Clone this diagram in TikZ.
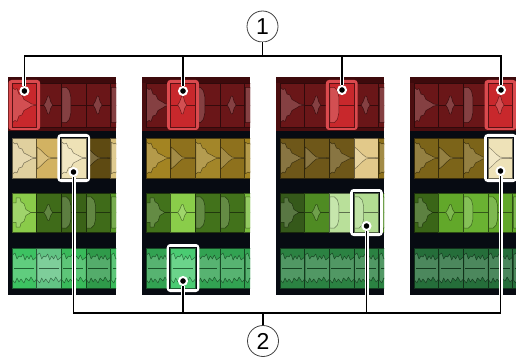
\documentclass[tikz,border=0pt]{standalone}
\usepackage{fontspec}
\setmainfont{Liberation Sans}
\usetikzlibrary{positioning}

\definecolor{panelbg}{HTML}{070B12}
\definecolor{redband}{HTML}{4C0E10}
\definecolor{redtop}{HTML}{3E0A0C}
\definecolor{redglow}{HTML}{DA4A4E}

\tikzset{
  clipedge/.style={draw=clipfill!45!black, line width=0.7pt},
  wavefill/.style={fill=clipfill!82!white, draw=clipfill!55!black, line width=0.5pt, line join=round},
  midline/.style={draw=clipfill!50!black, line width=0.8pt},
  dot/.style={circle, fill=black, draw=white, line width=2pt, inner sep=0pt, minimum size=8pt},
  callout/.style={circle, draw=black!75, line width=0.8pt, minimum size=31pt, inner sep=0pt, font=\fontsize{23}{23}\selectfont},
  halo/.style={draw=white, line width=4pt},
  connector/.style={draw=black, line width=1.8pt}
}

% waveforms, clip drawn in a 24.7 x 40 box
\newcommand{\waveA}{%
  \draw[midline] (0,20) -- (24.7,20);
  \draw[wavefill] (0.5,4) -- (3,6) -- (5,5) -- (7,10) -- (10,11) -- (12,15) -- (16,17) -- (20,19.2) -- (24.7,19.6) -- (24.7,20.4) -- (20,20.8) -- (16,23) -- (12,25) -- (10,29) -- (7,30) -- (5,35) -- (3,34) -- (0.5,36) -- cycle;}
\newcommand{\waveY}{%
  \draw[midline] (0,20) -- (24.7,20);
  \draw[wavefill] (0.5,9) -- (4,12) -- (8,16) -- (12,19.2) -- (24.7,19.6) -- (24.7,20.4) -- (12,20.8) -- (8,24) -- (4,28) -- (0.5,31) -- cycle;}
\newcommand{\waveB}{%
  \draw[midline] (0,20) -- (24.7,20);
  \draw[wavefill] (7,20) -- (9,17) -- (11,12) -- (12.5,12) -- (14,17) -- (16,20) -- (14,23) -- (12.5,28) -- (11,28) -- (9,23) -- cycle;}
\newcommand{\waveC}{%
  \draw[midline] (0,20) -- (24.7,20);
  \draw[wavefill] (0.5,4) -- (5,4) -- (8,7) -- (9.5,13) -- (9.5,27) -- (8,33) -- (5,36) -- (0.5,36) -- cycle;}
\newcommand{\waveX}{%
  \draw[midline] (0,20) -- (24.7,20);
  \draw[wavefill] (0.5,10) -- (4,10) -- (4,5) -- (8,5) -- (9,9) -- (12,11) -- (14,17) -- (18,19.3) -- (18,20.7) -- (14,23) -- (12,29) -- (9,31) -- (8,35) -- (4,35) -- (4,30) -- (0.5,30) -- cycle;}
\newcommand{\waveN}{%
  \draw[wavefill] (0.5,7) -- (3,5) -- (5,11) -- (7,8) -- (9,9) -- (11,6) -- (13,12) -- (15,8) -- (17,11) -- (19,7) -- (21,12) -- (24.7,9) -- (24.7,31) -- (22,34) -- (19,29) -- (17,33) -- (14,30) -- (12,35) -- (9,31) -- (7,34) -- (5,30) -- (3,35) -- (0.5,32) -- cycle;
  \draw[midline] (2,20) -- (22,20);}

% one clip: x, y, height, colour (HTML), waveform
\newcommand{\trackclip}[5]{%
  \edef\clipcolour{\noexpand\definecolor{clipfill}{HTML}{#4}}\clipcolour
  \begin{scope}[shift={(#1,#2)}, yscale=#3/40]
    \fill[clipfill] (0,0) rectangle (24.7,40);
    \csname wave#5\endcsname
    \draw[clipedge] (0,0) rectangle (24.7,40);
  \end{scope}}

% a row of clips: panel left, y, height, list colour/waveform
\newcommand{\trackrow}[4]{%
  \foreach \c/\w [count=\k from 0] in {#4}
    {\trackclip{#1+4+24.7*\k}{#2}{#3}{\c}{\w}}}

% selected clips
\newcommand{\redselect}[4]{%
  \begin{scope}[shift={(#1,#2)}]
    \fill[redglow, rounded corners=3pt] (-3.5,-3) rectangle (28.2,#3+3);
  \end{scope}
  \trackclip{#1}{#2}{#3}{C8282C}{#4}}
\newcommand{\whiteselect}[5]{%
  \begin{scope}[shift={(#1,#2)}]
    \fill[white, rounded corners=3.5pt] (-4,-4) rectangle (28.7,#3+4);
    \fill[panelbg] (-1.4,-1.4) rectangle (26.1,#3+1.4);
  \end{scope}
  \trackclip{#1}{#2}{#3}{#4}{#5}}

% panel frame: left edge, width
\newcommand{\panelframe}[2]{%
  \clip (#1,77) rectangle ++(#2,218);
  \fill[panelbg] (#1,77) rectangle ++(#2,218);
  \fill[redband] (#1,77) rectangle ++(#2,54);
  \fill[redtop] (#1,77) rectangle ++(#2,6);}

\begin{document}
\begin{tikzpicture}[x=1pt, y=-1pt]
\useasboundingbox (0,0) rectangle (516,358);

% Panel 1
\begin{scope}
  \panelframe{8}{108}
  \trackrow{8}{83}{44}{6A1618/A, 6A1618/B, 6A1618/C, 6A1618/B, 6A1618/C}
  \trackrow{8}{138}{40}{E0D09E/A, D2B262/Y, EEE2B6/A, 5E4A12/Y, D8C07A/A}
  \trackrow{8}{193}{39}{8ACB4A/X, 3F6B19/B, 3A6217/C, 3F6B19/C, 5A9A2A/C}
  \trackrow{8}{248}{40}{3DC262/N, 62C384/N, 39BA5A/N, 2F9A4A/N, 39BA5A/N}
  \redselect{12}{83}{44}{A}
  \whiteselect{61.4}{138}{40}{EEE2B6}{A}
\end{scope}

% Panel 2
\begin{scope}
  \panelframe{142}{108}
  \trackrow{142}{83}{44}{6A1618/A, 6A1618/B, 6A1618/C, 6A1618/B, 6A1618/C}
  \trackrow{142}{138}{40}{A38422/A, 8E711D/Y, A38629/A, 8E711D/Y, A38422/A}
  \trackrow{142}{193}{39}{42721B/X, 8ACD4A/B, 42721B/C, 42721B/C, 7BBE3E/C}
  \trackrow{142}{248}{40}{32A252/N, 32A252/N, 32A252/N, 32A252/N, 32A252/N}
  \redselect{170.7}{83}{44}{B}
  \whiteselect{170.7}{248}{40}{4ACB72}{N}
\end{scope}

% Panel 3
\begin{scope}
  \panelframe{276}{108}
  \trackrow{276}{83}{44}{6A1618/A, 6A1618/B, 6A1618/C, 6A1618/B, 6A1618/C}
  \trackrow{276}{138}{40}{6E5719/A, 6E5719/Y, 6E5719/A, E2C98A/Y, 8E711D/A}
  \trackrow{276}{193}{39}{35591A/X, 4F8B23/B, B9E09A/C, B2DC92/C, 4F8B23/C}
  \trackrow{276}{248}{40}{2B8242/N, 2B8242/N, 2B8242/N, 2B8242/N, 2B8242/N}
  \redselect{329.4}{83}{44}{C}
  \whiteselect{354.1}{193}{39}{B2DC92}{C}
\end{scope}

% Panel 4
\begin{scope}
  \panelframe{410}{106}
  \trackrow{410}{83}{44}{6A1618/A, 6A1618/B, 6A1618/C, 6A1618/B, 6A1618/C}
  \trackrow{410}{138}{40}{7C6419/A, 7C6419/Y, 7C6419/A, EEE2B8/Y, 7C6419/A}
  \trackrow{410}{193}{39}{3A6517/X, 62A82A/B, 6AB232/C, 62A82A/C, 62A82A/C}
  \trackrow{410}{248}{40}{256E3A/N, 256E3A/N, 256E3A/N, 256E3A/N, 256E3A/N}
  \redselect{488.1}{83}{44}{B}
  \whiteselect{488.1}{138}{40}{EEE2B8}{Y}
\end{scope}

% Callout markers
\node[callout] (one) at (262.5,26.5) {1};
\node[callout] (two) at (263,341) {2};
\coordinate (bar1) at (262.5,56);
\coordinate (bar2) at (263,313);

% Dots on the red clips
\node[dot] (r1) at (24.4,91) {};
\node[dot] (r2) at (183,91) {};
\node[dot] (r3) at (342,90) {};
\node[dot] (r4) at (501,90) {};

% Dots on the other clips
\node[dot] (y1) at (73.5,172) {};
\node[dot] (g2) at (183,281) {};
\node[dot] (l3) at (366.5,226) {};
\node[dot] (y4) at (500.5,171) {};

% Connectors
\foreach \pass in {halo, connector}
{
  \draw[\pass] (r1) |- (bar1) -| (r4);
  \draw[\pass] (r2) -- (r2 |- bar1);
  \draw[\pass] (r3) -- (r3 |- bar1);
  \draw[\pass] (one) -- (bar1);
  \draw[\pass] (y1) |- (bar2) -| (y4);
  \draw[\pass] (g2) -- (g2 |- bar2);
  \draw[\pass] (l3) -- (l3 |- bar2);
  \draw[\pass] (two) -- (bar2);
}

\end{tikzpicture}
\end{document}
